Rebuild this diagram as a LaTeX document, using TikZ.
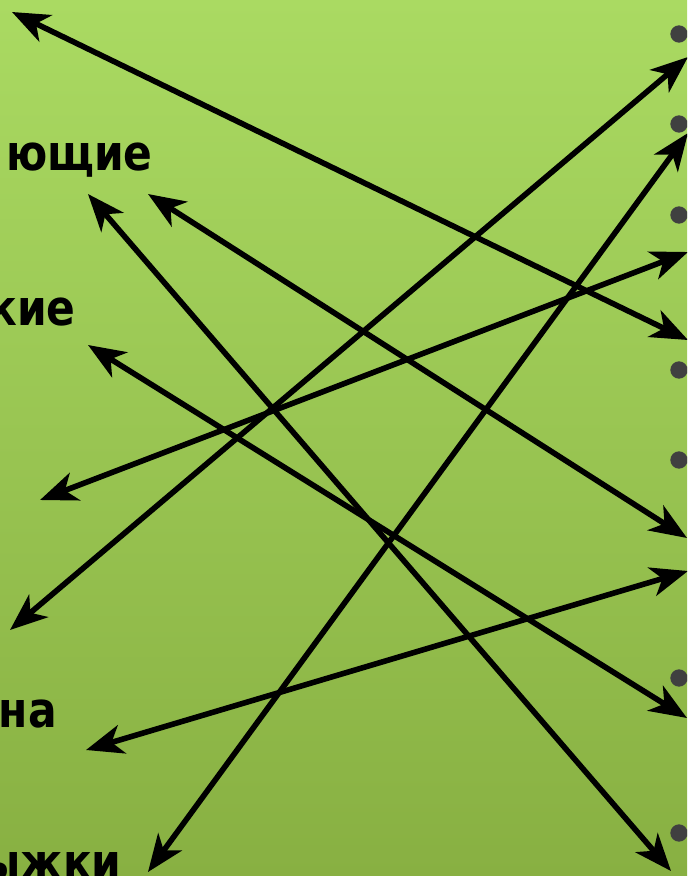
\documentclass[tikz,border=0pt]{standalone}
\usepackage{fontspec}
\setmainfont{DejaVu Sans}
\newfontfamily\lblfont[FakeStretch=0.86]{DejaVu Sans}
\usetikzlibrary{arrows.meta}
\definecolor{bgtop}{RGB}{170,218,98}
\definecolor{bgbot}{RGB}{136,176,66}
\definecolor{dotc}{RGB}{64,64,64}
\tikzset{
  arr/.style={line width=4.2pt,{Stealth[length=28pt,width=22pt,inset=8pt]}-{Stealth[length=28pt,width=22pt,inset=8pt]}},
  lbl/.style={anchor=east,inner sep=0pt,font=\lblfont\fontsize{37}{42}\selectfont\bfseries},
  dot/.style={circle,fill=dotc,inner sep=0pt,minimum size=13pt}
}
\begin{document}
\begin{tikzpicture}[x=0.75pt,y=-0.75pt]
\useasboundingbox (0,0) rectangle (687,876);
\shade[top color=bgtop,bottom color=bgbot] (0,0) rectangle (687,876);
\clip (0,0) rectangle (687,876);
% labels
\node[lbl] (t1) at (153,160) {ющие};
\node[lbl] (t2) at (76,312) {кие};
\node[lbl] (t3) at (57,714) {на};
\node[lbl] (t4) at (122,866) {ыжки};
% bullets
\foreach \i/\y in {1/34,2/124,3/215,4/370,5/460,6/678,7/833}{
  \node[dot] (d\i) at (679,\y) {};
}
% arrow ends
\coordinate (a1) at (12,12);    \coordinate (b1) at (688,340);
\coordinate (a2) at (88,194);   \coordinate (b2) at (671,871);
\coordinate (a3) at (148,194);  \coordinate (b3) at (687,538);
\coordinate (a4) at (88,345);   \coordinate (b4) at (687,718);
\coordinate (a5) at (40,500);   \coordinate (b5) at (688,252);
\coordinate (a6) at (10,630);   \coordinate (b6) at (688,57);
\coordinate (a7) at (86,750);   \coordinate (b7) at (688,571);
\coordinate (a8) at (148,872);  \coordinate (b8) at (688,133);
\foreach \i in {1,...,8}{ \draw[arr] (a\i) -- (b\i); }
\end{tikzpicture}
\end{document}
